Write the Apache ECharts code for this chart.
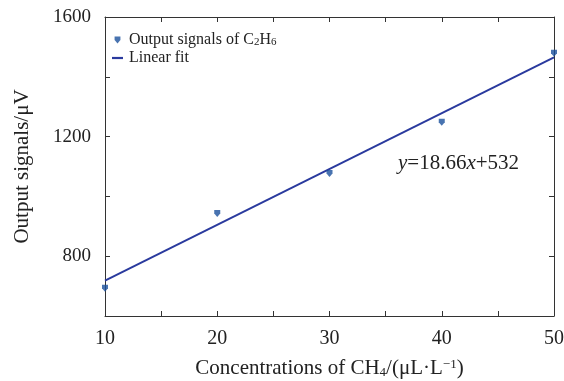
<!DOCTYPE html>
<html><head><meta charset="utf-8">
<script src="https://cdn.jsdelivr.net/npm/echarts@6/dist/echarts.min.js"></script>
<style>html,body{margin:0;padding:0;background:#fff}#c{width:564px;height:381px}</style>
</head><body><div id="c"></div>
<script>
const concX = [10, 20, 30, 40, 50];
const signalY = [693, 943, 1077, 1248, 1479];
const fitX = [10, 50];
const fitY = [718.6, 1465];
const xTicks = [10, 20, 30, 40, 50];
const yTicks = [800, 1200, 1600];

const F = '"Liberation Serif","Times New Roman",serif';
const axisCol = '#333';
const txt = '#222';
const markerPath = 'path://M0,0 L10,0 L10,6 L5,12 L0,6 Z';
const chart = echarts.init(document.getElementById('c'));
const common = {
  axisLine: {show: true, lineStyle: {color: axisCol, width: 1}},
  axisTick: {show: true, inside: true, length: 5, lineStyle: {color: axisCol}},
  splitLine: {show: false}
};
chart.setOption({
  animation: false,
  grid: {left: 105, right: 10, top: 17, bottom: 65, outerBoundsMode: 'none', containLabel: false},
  legend: {
    left: 112, top: 32, padding: 0, orient: 'vertical', itemGap: 2, itemWidth: 11, itemHeight: 7,
    textStyle: {fontFamily: F, fontSize: 16, color: txt, padding: [0,0,0,1],
      rich: {
        n: {fontFamily: F, fontSize: 16, lineHeight: 16, verticalAlign: 'middle', color: txt},
        sub: {fontFamily: F, fontSize: 11, lineHeight: 8, verticalAlign: 'bottom', color: txt}
      }},
    formatter: n => n === 'data' ? '{n|Output signals of C}{sub|2}{n|H}{sub|6}' : '{n|Linear fit}',
    data: [{name: 'data', icon: markerPath}, {name: 'fit', icon: 'path://M0,0 L10,0 L10,2 L0,2 Z'}]
  },
  xAxis: [{
    type: 'value', min: 10, max: 50, interval: 5, ...common,
    axisLabel: {fontFamily: F, fontSize: 20, color: txt, margin: 13,
      formatter: v => xTicks.includes(v) ? String(v) : ''},
    name: '{n|Concentrations of CH}{sub|4}{n|/(μL·L}{sup|−1}{n|)}', nameLocation: 'middle', nameGap: 42,
    nameTextStyle: {fontFamily: F, fontSize: 21, color: txt,
      rich: {
        n: {fontFamily: F, fontSize: 21, lineHeight: 21, verticalAlign: 'middle', color: txt},
        sub: {fontFamily: F, fontSize: 13, lineHeight: 7, verticalAlign: 'bottom', color: txt},
        sup: {fontFamily: F, fontSize: 13, lineHeight: 15, verticalAlign: 'top', color: txt}
      }}
  }, {
    type: 'value', position: 'top', min: 10, max: 50, interval: 5, ...common, axisLabel: {show: false}
  }],
  yAxis: [{
    type: 'value', min: 600, max: 1600, interval: 200, ...common,
    axisLabel: {fontFamily: F, fontSize: 19, color: txt, margin: 14, padding: [5, 0, 0, 0],
      formatter: v => yTicks.includes(v) ? String(v) : ''},
    name: 'Output signals/μV', nameLocation: 'middle', nameGap: 72,
    nameTextStyle: {fontFamily: F, fontSize: 21, color: txt}
  }, {
    type: 'value', position: 'right', min: 600, max: 1600, interval: 200, ...common, axisLabel: {show: false}
  }],
  series: [{
    name: 'fit', type: 'line', symbol: 'none',
    data: fitX.map((x, i) => [x, fitY[i]]),
    lineStyle: {color: '#2a3a9e', width: 2}, itemStyle: {color: '#2a3a9e'}, z: 2
  }, {
    name: 'data', type: 'scatter', symbol: markerPath, symbolSize: [6, 7],
    data: concX.map((x, i) => [x, signalY[i]]),
    itemStyle: {color: '#1a509c'}, z: 3
  }],
  graphic: [{
    type: 'text', left: 398, top: 153,
    style: {
      text: '{i|y}=18.66{i|x}+532',
      font: '21px ' + F, fill: txt,
      rich: {i: {fontFamily: F, fontSize: 21, fontStyle: 'italic', fill: txt}}
    }
  }]
});
</script></body></html>
